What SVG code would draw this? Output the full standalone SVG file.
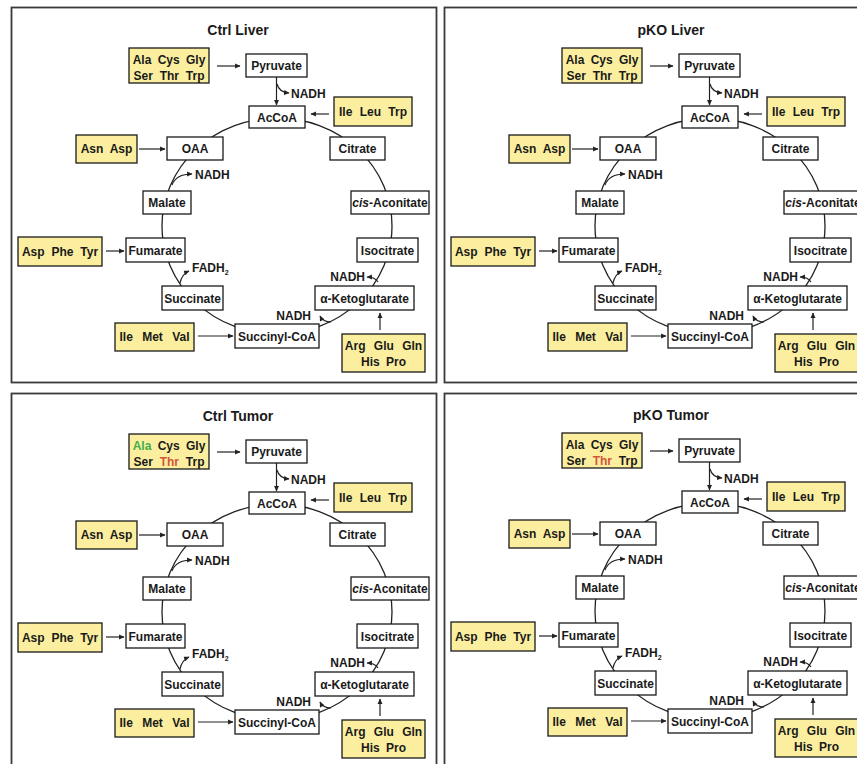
<svg xmlns="http://www.w3.org/2000/svg" width="857" height="764" viewBox="0 0 857 764">
<defs>
<style>
.frame{fill:none;stroke:#3a3a3a;stroke-width:1.8}
.box{fill:#fff;stroke:#1a1a1a;stroke-width:1.3}
.aa{fill:#fbef9f;stroke:#1a1a1a;stroke-width:1.3}
text{font-family:"Liberation Sans",Arial,sans-serif;font-weight:bold;font-size:12px;fill:#1a1a1a}
.c{text-anchor:middle}
.e{text-anchor:end}
.title{font-size:14px;text-anchor:middle}
.cyc{fill:none;stroke:#222;stroke-width:1.3}
.arr{fill:none;stroke:#222;stroke-width:1.2;marker-end:url(#ah)}
.g{fill:#3fae49}
.r{fill:#d2553c}
.sub{font-size:7px}
</style>
<marker id="ah" viewBox="0 0 10 10" refX="9" refY="5" markerWidth="6" markerHeight="5.5" orient="auto" markerUnits="userSpaceOnUse">
<path d="M0,0.5 L10,5 L0,9.5 z" fill="#222"/>
</marker>
</defs>
<rect width="857" height="764" fill="#fff"/>

<!-- ===== Ctrl Liver ===== -->
<g id="ctrl-liver">
<rect class="frame" x="11.5" y="7.5" width="425" height="375"/>
<text class="title" x="238" y="35">Ctrl Liver</text>
<g id="cl-connectors">
<ellipse class="cyc" cx="277" cy="226" rx="115" ry="108"/>
<path class="arr" d="M217,66 H240"/>
<path class="arr" d="M276.5,77 V105"/>
<path class="arr" d="M277,84 Q279,92 289,93"/>
<path class="arr" d="M329,114 H311"/>
<path class="arr" d="M139,149 H165"/>
<path class="arr" d="M172,185 Q176,174 192,174"/>
<path class="arr" d="M106,251 H124"/>
<path class="arr" d="M180,283 Q182,274 189,271"/>
<path class="arr" d="M378,282 Q375,277 367,277"/>
<path class="arr" d="M331,322 Q323,322 320,316"/>
<path class="arr" d="M198,336 H233"/>
<path class="arr" d="M380,330 V313"/>
</g>
<g id="cl-aa-pyr"><rect class="aa" x="129" y="48" width="80" height="35"/><text class="c" x="169" y="64" word-spacing="3">Ala Cys Gly</text><text class="c" x="169" y="79.5" word-spacing="3.5">Ser Thr Trp</text></g>
<g id="cl-pyruvate"><rect class="box" x="246" y="54" width="61" height="23"/><text class="c" x="276.5" y="70">Pyruvate</text></g>
<g id="cl-nadh1"><text x="291" y="97.5">NADH</text></g>
<g id="cl-acoa"><rect class="box" x="249" y="106" width="56" height="22"/><text class="c" x="277" y="121.5">AcCoA</text></g>
<g id="cl-aa-acoa"><rect class="aa" x="334" y="97" width="78" height="29"/><text class="c" x="373" y="116" word-spacing="4">Ile Leu Trp</text></g>
<g id="cl-aa-oaa"><rect class="aa" x="76" y="135" width="61" height="28"/><text class="c" x="106.5" y="153" word-spacing="3.5">Asn Asp</text></g>
<g id="cl-oaa"><rect class="box" x="167" y="137" width="56" height="23"/><text class="c" x="195" y="153">OAA</text></g>
<g id="cl-citrate"><rect class="box" x="330" y="137" width="55" height="23"/><text class="c" x="357.5" y="153">Citrate</text></g>
<g id="cl-nadh2"><text x="195" y="178.5">NADH</text></g>
<g id="cl-malate"><rect class="box" x="143" y="191" width="48" height="23"/><text class="c" x="167" y="207">Malate</text></g>
<g id="cl-cisaconitate"><rect class="box" x="351" y="191" width="78" height="23"/><text class="c" x="390" y="207"><tspan font-style="italic">cis</tspan>-Aconitate</text></g>
<g id="cl-aa-fum"><rect class="aa" x="18" y="237" width="84" height="29"/><text class="c" x="60" y="255.5" word-spacing="3.5">Asp Phe Tyr</text></g>
<g id="cl-fumarate"><rect class="box" x="126" y="238" width="59" height="24"/><text class="c" x="155.5" y="255">Fumarate</text></g>
<g id="cl-isocitrate"><rect class="box" x="357" y="238" width="61" height="24"/><text class="c" x="387.5" y="255">Isocitrate</text></g>
<g id="cl-fadh2"><text x="192" y="272">FADH<tspan class="sub" dy="3">2</tspan></text></g>
<g id="cl-nadh3"><text class="e" x="365" y="281">NADH</text></g>
<g id="cl-succinate"><rect class="box" x="162" y="286" width="61" height="24"/><text class="c" x="192.5" y="303">Succinate</text></g>
<g id="cl-akg"><rect class="box" x="315" y="286" width="99" height="24"/><text class="c" x="364.5" y="303">α-Ketoglutarate</text></g>
<g id="cl-nadh4"><text class="e" x="311" y="319.5">NADH</text></g>
<g id="cl-aa-scoa"><rect class="aa" x="115" y="323" width="79" height="28"/><text class="c" x="154.5" y="341" word-spacing="6">Ile Met Val</text></g>
<g id="cl-succinylcoa"><rect class="box" x="235" y="324" width="84" height="24"/><text class="c" x="277" y="340.5">Succinyl-CoA</text></g>
<g id="cl-aa-akg"><rect class="aa" x="342" y="334" width="83" height="38"/><text class="c" x="383.5" y="350" word-spacing="5">Arg Glu Gln</text><text class="c" x="383.5" y="365.5" word-spacing="3">His Pro</text></g>
</g>

<!-- ===== pKO Liver ===== -->
<g id="pko-liver" transform="translate(433,0)">
<rect class="frame" x="11.5" y="7.5" width="425" height="375"/>
<text class="title" x="238" y="35">pKO Liver</text>
<g id="pl-connectors">
<ellipse class="cyc" cx="277" cy="226" rx="115" ry="108"/>
<path class="arr" d="M217,66 H240"/>
<path class="arr" d="M276.5,77 V105"/>
<path class="arr" d="M277,84 Q279,92 289,93"/>
<path class="arr" d="M329,114 H311"/>
<path class="arr" d="M139,149 H165"/>
<path class="arr" d="M172,185 Q176,174 192,174"/>
<path class="arr" d="M106,251 H124"/>
<path class="arr" d="M180,283 Q182,274 189,271"/>
<path class="arr" d="M378,282 Q375,277 367,277"/>
<path class="arr" d="M331,322 Q323,322 320,316"/>
<path class="arr" d="M198,336 H233"/>
<path class="arr" d="M380,330 V313"/>
</g>
<g id="pl-aa-pyr"><rect class="aa" x="129" y="48" width="80" height="35"/><text class="c" x="169" y="64" word-spacing="3">Ala Cys Gly</text><text class="c" x="169" y="79.5" word-spacing="3.5">Ser Thr Trp</text></g>
<g id="pl-pyruvate"><rect class="box" x="246" y="54" width="61" height="23"/><text class="c" x="276.5" y="70">Pyruvate</text></g>
<g id="pl-nadh1"><text x="291" y="97.5">NADH</text></g>
<g id="pl-acoa"><rect class="box" x="249" y="106" width="56" height="22"/><text class="c" x="277" y="121.5">AcCoA</text></g>
<g id="pl-aa-acoa"><rect class="aa" x="334" y="97" width="78" height="29"/><text class="c" x="373" y="116" word-spacing="4">Ile Leu Trp</text></g>
<g id="pl-aa-oaa"><rect class="aa" x="76" y="135" width="61" height="28"/><text class="c" x="106.5" y="153" word-spacing="3.5">Asn Asp</text></g>
<g id="pl-oaa"><rect class="box" x="167" y="137" width="56" height="23"/><text class="c" x="195" y="153">OAA</text></g>
<g id="pl-citrate"><rect class="box" x="330" y="137" width="55" height="23"/><text class="c" x="357.5" y="153">Citrate</text></g>
<g id="pl-nadh2"><text x="195" y="178.5">NADH</text></g>
<g id="pl-malate"><rect class="box" x="143" y="191" width="48" height="23"/><text class="c" x="167" y="207">Malate</text></g>
<g id="pl-cisaconitate"><rect class="box" x="351" y="191" width="78" height="23"/><text class="c" x="390" y="207"><tspan font-style="italic">cis</tspan>-Aconitate</text></g>
<g id="pl-aa-fum"><rect class="aa" x="18" y="237" width="84" height="29"/><text class="c" x="60" y="255.5" word-spacing="3.5">Asp Phe Tyr</text></g>
<g id="pl-fumarate"><rect class="box" x="126" y="238" width="59" height="24"/><text class="c" x="155.5" y="255">Fumarate</text></g>
<g id="pl-isocitrate"><rect class="box" x="357" y="238" width="61" height="24"/><text class="c" x="387.5" y="255">Isocitrate</text></g>
<g id="pl-fadh2"><text x="192" y="272">FADH<tspan class="sub" dy="3">2</tspan></text></g>
<g id="pl-nadh3"><text class="e" x="365" y="281">NADH</text></g>
<g id="pl-succinate"><rect class="box" x="162" y="286" width="61" height="24"/><text class="c" x="192.5" y="303">Succinate</text></g>
<g id="pl-akg"><rect class="box" x="315" y="286" width="99" height="24"/><text class="c" x="364.5" y="303">α-Ketoglutarate</text></g>
<g id="pl-nadh4"><text class="e" x="311" y="319.5">NADH</text></g>
<g id="pl-aa-scoa"><rect class="aa" x="115" y="323" width="79" height="28"/><text class="c" x="154.5" y="341" word-spacing="6">Ile Met Val</text></g>
<g id="pl-succinylcoa"><rect class="box" x="235" y="324" width="84" height="24"/><text class="c" x="277" y="340.5">Succinyl-CoA</text></g>
<g id="pl-aa-akg"><rect class="aa" x="342" y="334" width="83" height="38"/><text class="c" x="383.5" y="350" word-spacing="5">Arg Glu Gln</text><text class="c" x="383.5" y="365.5" word-spacing="3">His Pro</text></g>
</g>

<!-- ===== Ctrl Tumor ===== -->
<g id="ctrl-tumor" transform="translate(0,386)">
<rect class="frame" x="11.5" y="7.5" width="425" height="375"/>
<text class="title" x="238" y="35">Ctrl Tumor</text>
<g id="ct-connectors">
<ellipse class="cyc" cx="277" cy="226" rx="115" ry="108"/>
<path class="arr" d="M217,66 H240"/>
<path class="arr" d="M276.5,77 V105"/>
<path class="arr" d="M277,84 Q279,92 289,93"/>
<path class="arr" d="M329,114 H311"/>
<path class="arr" d="M139,149 H165"/>
<path class="arr" d="M172,185 Q176,174 192,174"/>
<path class="arr" d="M106,251 H124"/>
<path class="arr" d="M180,283 Q182,274 189,271"/>
<path class="arr" d="M378,282 Q375,277 367,277"/>
<path class="arr" d="M331,322 Q323,322 320,316"/>
<path class="arr" d="M198,336 H233"/>
<path class="arr" d="M380,330 V313"/>
</g>
<g id="ct-aa-pyr"><rect class="aa" x="129" y="48" width="80" height="35"/><text class="c" x="169" y="64" word-spacing="3"><tspan class="g">Ala</tspan> Cys Gly</text><text class="c" x="169" y="79.5" word-spacing="3.5">Ser <tspan class="r">Thr</tspan> Trp</text></g>
<g id="ct-pyruvate"><rect class="box" x="246" y="54" width="61" height="23"/><text class="c" x="276.5" y="70">Pyruvate</text></g>
<g id="ct-nadh1"><text x="291" y="97.5">NADH</text></g>
<g id="ct-acoa"><rect class="box" x="249" y="106" width="56" height="22"/><text class="c" x="277" y="121.5">AcCoA</text></g>
<g id="ct-aa-acoa"><rect class="aa" x="334" y="97" width="78" height="29"/><text class="c" x="373" y="116" word-spacing="4">Ile Leu Trp</text></g>
<g id="ct-aa-oaa"><rect class="aa" x="76" y="135" width="61" height="28"/><text class="c" x="106.5" y="153" word-spacing="3.5">Asn Asp</text></g>
<g id="ct-oaa"><rect class="box" x="167" y="137" width="56" height="23"/><text class="c" x="195" y="153">OAA</text></g>
<g id="ct-citrate"><rect class="box" x="330" y="137" width="55" height="23"/><text class="c" x="357.5" y="153">Citrate</text></g>
<g id="ct-nadh2"><text x="195" y="178.5">NADH</text></g>
<g id="ct-malate"><rect class="box" x="143" y="191" width="48" height="23"/><text class="c" x="167" y="207">Malate</text></g>
<g id="ct-cisaconitate"><rect class="box" x="351" y="191" width="78" height="23"/><text class="c" x="390" y="207"><tspan font-style="italic">cis</tspan>-Aconitate</text></g>
<g id="ct-aa-fum"><rect class="aa" x="18" y="237" width="84" height="29"/><text class="c" x="60" y="255.5" word-spacing="3.5">Asp Phe Tyr</text></g>
<g id="ct-fumarate"><rect class="box" x="126" y="238" width="59" height="24"/><text class="c" x="155.5" y="255">Fumarate</text></g>
<g id="ct-isocitrate"><rect class="box" x="357" y="238" width="61" height="24"/><text class="c" x="387.5" y="255">Isocitrate</text></g>
<g id="ct-fadh2"><text x="192" y="272">FADH<tspan class="sub" dy="3">2</tspan></text></g>
<g id="ct-nadh3"><text class="e" x="365" y="281">NADH</text></g>
<g id="ct-succinate"><rect class="box" x="162" y="286" width="61" height="24"/><text class="c" x="192.5" y="303">Succinate</text></g>
<g id="ct-akg"><rect class="box" x="315" y="286" width="99" height="24"/><text class="c" x="364.5" y="303">α-Ketoglutarate</text></g>
<g id="ct-nadh4"><text class="e" x="311" y="319.5">NADH</text></g>
<g id="ct-aa-scoa"><rect class="aa" x="115" y="323" width="79" height="28"/><text class="c" x="154.5" y="341" word-spacing="6">Ile Met Val</text></g>
<g id="ct-succinylcoa"><rect class="box" x="235" y="324" width="84" height="24"/><text class="c" x="277" y="340.5">Succinyl-CoA</text></g>
<g id="ct-aa-akg"><rect class="aa" x="342" y="334" width="83" height="38"/><text class="c" x="383.5" y="350" word-spacing="5">Arg Glu Gln</text><text class="c" x="383.5" y="365.5" word-spacing="3">His Pro</text></g>
</g>

<!-- ===== pKO Tumor ===== -->
<g id="pko-tumor" transform="translate(433,385)">
<rect class="frame" x="11.5" y="8.5" width="425" height="375"/>
<text class="title" x="238" y="35">pKO Tumor</text>
<g id="pt-connectors">
<ellipse class="cyc" cx="277" cy="226" rx="115" ry="108"/>
<path class="arr" d="M217,66 H240"/>
<path class="arr" d="M276.5,77 V105"/>
<path class="arr" d="M277,84 Q279,92 289,93"/>
<path class="arr" d="M329,114 H311"/>
<path class="arr" d="M139,149 H165"/>
<path class="arr" d="M172,185 Q176,174 192,174"/>
<path class="arr" d="M106,251 H124"/>
<path class="arr" d="M180,283 Q182,274 189,271"/>
<path class="arr" d="M378,282 Q375,277 367,277"/>
<path class="arr" d="M331,322 Q323,322 320,316"/>
<path class="arr" d="M198,336 H233"/>
<path class="arr" d="M380,330 V313"/>
</g>
<g id="pt-aa-pyr"><rect class="aa" x="129" y="48" width="80" height="35"/><text class="c" x="169" y="64" word-spacing="3">Ala Cys Gly</text><text class="c" x="169" y="79.5" word-spacing="3.5">Ser <tspan class="r">Thr</tspan> Trp</text></g>
<g id="pt-pyruvate"><rect class="box" x="246" y="54" width="61" height="23"/><text class="c" x="276.5" y="70">Pyruvate</text></g>
<g id="pt-nadh1"><text x="291" y="97.5">NADH</text></g>
<g id="pt-acoa"><rect class="box" x="249" y="106" width="56" height="22"/><text class="c" x="277" y="121.5">AcCoA</text></g>
<g id="pt-aa-acoa"><rect class="aa" x="334" y="97" width="78" height="29"/><text class="c" x="373" y="116" word-spacing="4">Ile Leu Trp</text></g>
<g id="pt-aa-oaa"><rect class="aa" x="76" y="135" width="61" height="28"/><text class="c" x="106.5" y="153" word-spacing="3.5">Asn Asp</text></g>
<g id="pt-oaa"><rect class="box" x="167" y="137" width="56" height="23"/><text class="c" x="195" y="153">OAA</text></g>
<g id="pt-citrate"><rect class="box" x="330" y="137" width="55" height="23"/><text class="c" x="357.5" y="153">Citrate</text></g>
<g id="pt-nadh2"><text x="195" y="178.5">NADH</text></g>
<g id="pt-malate"><rect class="box" x="143" y="191" width="48" height="23"/><text class="c" x="167" y="207">Malate</text></g>
<g id="pt-cisaconitate"><rect class="box" x="351" y="191" width="78" height="23"/><text class="c" x="390" y="207"><tspan font-style="italic">cis</tspan>-Aconitate</text></g>
<g id="pt-aa-fum"><rect class="aa" x="18" y="237" width="84" height="29"/><text class="c" x="60" y="255.5" word-spacing="3.5">Asp Phe Tyr</text></g>
<g id="pt-fumarate"><rect class="box" x="126" y="238" width="59" height="24"/><text class="c" x="155.5" y="255">Fumarate</text></g>
<g id="pt-isocitrate"><rect class="box" x="357" y="238" width="61" height="24"/><text class="c" x="387.5" y="255">Isocitrate</text></g>
<g id="pt-fadh2"><text x="192" y="272">FADH<tspan class="sub" dy="3">2</tspan></text></g>
<g id="pt-nadh3"><text class="e" x="365" y="281">NADH</text></g>
<g id="pt-succinate"><rect class="box" x="162" y="286" width="61" height="24"/><text class="c" x="192.5" y="303">Succinate</text></g>
<g id="pt-akg"><rect class="box" x="315" y="286" width="99" height="24"/><text class="c" x="364.5" y="303">α-Ketoglutarate</text></g>
<g id="pt-nadh4"><text class="e" x="311" y="319.5">NADH</text></g>
<g id="pt-aa-scoa"><rect class="aa" x="115" y="323" width="79" height="28"/><text class="c" x="154.5" y="341" word-spacing="6">Ile Met Val</text></g>
<g id="pt-succinylcoa"><rect class="box" x="235" y="324" width="84" height="24"/><text class="c" x="277" y="340.5">Succinyl-CoA</text></g>
<g id="pt-aa-akg"><rect class="aa" x="342" y="334" width="83" height="38"/><text class="c" x="383.5" y="350" word-spacing="5">Arg Glu Gln</text><text class="c" x="383.5" y="365.5" word-spacing="3">His Pro</text></g>
</g>
</svg>
